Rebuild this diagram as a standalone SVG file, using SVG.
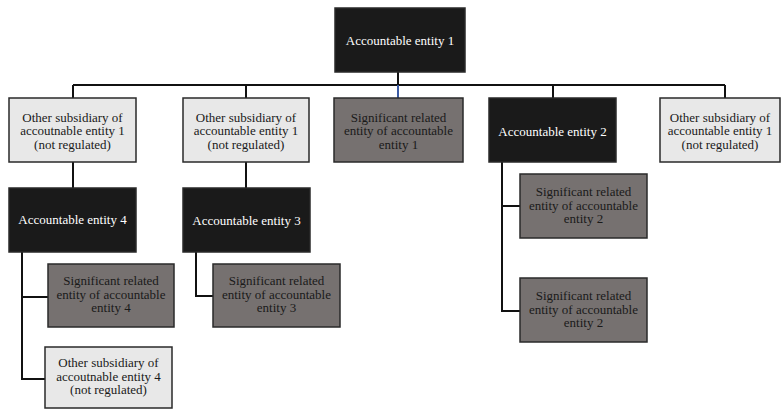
<svg xmlns="http://www.w3.org/2000/svg" width="782" height="410" viewBox="0 0 782 410">
<style>
.box{stroke:#2a2a2a;stroke-width:1.5}
.dark{fill:#1a1a1a}
.mid{fill:#767170}
.light{fill:#e8e8e8}
text{font-family:"Liberation Serif","Times New Roman",serif;font-size:13px;text-anchor:middle}
.wt{fill:#ffffff}
.bt{fill:#1a1a1a}
.conn{stroke:#111;stroke-width:2;fill:none}
</style>
<rect width="782" height="410" fill="#ffffff"/>
<g id="connectors">
<path class="conn" d="M398 72V85M73 85H725M73 85V98M246 85V98M553 85V98M725 85V98"/>
<path d="M398 85V98" stroke="#3b5ba5" stroke-width="2" fill="none"/>
<path class="conn" d="M73 162V188M246 162V188"/>
<path class="conn" d="M22 252V379H45M22 297H48"/>
<path class="conn" d="M196 252V296H213"/>
<path class="conn" d="M502 162V311H520M502 206H520"/>
</g>
<g id="ae1"><rect class="box dark" x="335" y="8" width="130" height="64"/><text class="wt" x="400" y="45">Accountable entity 1</text></g>
<g id="os1a"><rect class="box light" x="9" y="98" width="127" height="64"/><text class="bt" x="72.5" y="121.5">Other subsidiary of</text><text class="bt" x="72.5" y="135">accoutnable entity 1</text><text class="bt" x="72.5" y="148.5">(not regulated)</text></g>
<g id="os1b"><rect class="box light" x="183" y="98" width="126" height="64"/><text class="bt" x="246" y="121.5">Other subsidiary of</text><text class="bt" x="246" y="135">accountable entity 1</text><text class="bt" x="246" y="148.5">(not regulated)</text></g>
<g id="sr1"><rect class="box mid" x="334" y="98" width="129" height="64"/><text class="bt" x="398.5" y="121.5">Significant related</text><text class="bt" x="398.5" y="135">entity of accountable</text><text class="bt" x="398.5" y="148.5">entity 1</text></g>
<g id="ae2"><rect class="box dark" x="489" y="98" width="127" height="64"/><text class="wt" x="552.5" y="136">Accountable entity 2</text></g>
<g id="os1c"><rect class="box light" x="660" y="98" width="120" height="64"/><text class="bt" x="720" y="121.5">Other subsidiary of</text><text class="bt" x="720" y="135">accountable entity 1</text><text class="bt" x="720" y="148.5">(not regulated)</text></g>
<g id="ae4"><rect class="box dark" x="9" y="188" width="127" height="64"/><text class="wt" x="72.5" y="224">Accountable entity 4</text></g>
<g id="ae3"><rect class="box dark" x="183" y="188" width="127" height="64"/><text class="wt" x="246.5" y="224.5">Accountable entity 3</text></g>
<g id="sr4"><rect class="box mid" x="48" y="264" width="126" height="63"/><text class="bt" x="111" y="285">Significant related</text><text class="bt" x="111" y="298.5">entity of accountable</text><text class="bt" x="111" y="312">entity 4</text></g>
<g id="os4"><rect class="box light" x="45" y="347" width="127" height="61"/><text class="bt" x="108.5" y="367">Other subsidiary of</text><text class="bt" x="108.5" y="380.5">accoutnable entity 4</text><text class="bt" x="108.5" y="394">(not regulated)</text></g>
<g id="sr3"><rect class="box mid" x="213" y="264" width="127" height="63"/><text class="bt" x="276.5" y="285">Significant related</text><text class="bt" x="276.5" y="298.5">entity of accountable</text><text class="bt" x="276.5" y="312">entity 3</text></g>
<g id="sr2a"><rect class="box mid" x="520" y="174" width="127" height="64"/><text class="bt" x="583.5" y="196">Significant related</text><text class="bt" x="583.5" y="209.5">entity of accountable</text><text class="bt" x="583.5" y="223">entity 2</text></g>
<g id="sr2b"><rect class="box mid" x="520" y="278" width="127" height="64"/><text class="bt" x="583.5" y="300">Significant related</text><text class="bt" x="583.5" y="313.5">entity of accountable</text><text class="bt" x="583.5" y="327">entity 2</text></g>
</svg>
